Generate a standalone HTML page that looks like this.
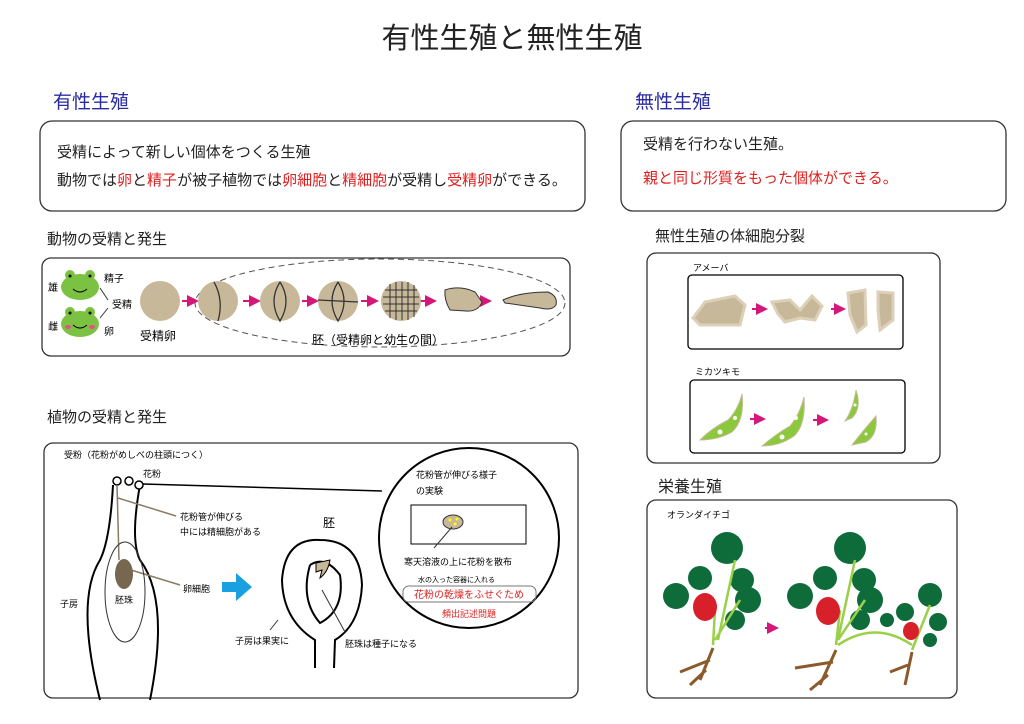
<!DOCTYPE html>
<html><head><meta charset="utf-8"><style>
body{margin:0;background:#fff;}
svg{display:block;font-family:"Liberation Sans","Noto Sans CJK JP",sans-serif;}
</style></head><body>
<svg width="1024" height="724" viewBox="0 0 1024 724" xmlns="http://www.w3.org/2000/svg">
<defs>
<marker id="ar" markerWidth="6" markerHeight="6" refX="5" refY="3" orient="auto"><path d="M0,0 L6,3 L0,6z" fill="#d6177a"/></marker>
</defs>
<text x="512" y="48" font-size="29" text-anchor="middle" fill="#222">有性生殖と無性生殖</text>
<text x="53" y="108" font-size="19" fill="#2b2ba0">有性生殖</text>
<text x="635" y="108" font-size="19" fill="#2b2ba0">無性生殖</text>
<rect x="40" y="121" width="545" height="90" rx="12" fill="none" stroke="#333" stroke-width="1.3"/>
<text x="57" y="157" font-size="15" fill="#222">受精によって新しい個体をつくる生殖</text>
<text x="57" y="185" font-size="15" fill="#222">動物では<tspan fill="#e02020">卵</tspan>と<tspan fill="#e02020">精子</tspan>が被子植物では<tspan fill="#e02020">卵細胞</tspan>と<tspan fill="#e02020">精細胞</tspan>が受精し<tspan fill="#e02020">受精卵</tspan>ができる。</text>
<rect x="621" y="121" width="385" height="90" rx="12" fill="none" stroke="#333" stroke-width="1.3"/>
<text x="643" y="149" font-size="15" fill="#222">受精を行わない生殖。</text>
<text x="643" y="183" font-size="15" fill="#e02020">親と同じ形質をもった個体ができる。</text>

<!-- animal -->
<text x="47" y="244" font-size="15" fill="#222">動物の受精と発生</text>
<rect x="42" y="258" width="528" height="98" rx="9" fill="none" stroke="#333" stroke-width="1.3"/>
<text x="48" y="291" font-size="10">雄</text><text x="48" y="330" font-size="10">雌</text>
<ellipse cx="80" cy="287" rx="19" ry="13" fill="#7cc242"/><circle cx="70" cy="275" r="5" fill="#7cc242"/><circle cx="90" cy="275" r="5" fill="#7cc242"/>
<circle cx="70" cy="276" r="1.5" fill="#000"/><circle cx="90" cy="276" r="1.5" fill="#000"/><path d="M73 289 Q80 295 87 289" stroke="#000" fill="none"/>
<ellipse cx="80" cy="324" rx="19" ry="13" fill="#7cc242"/><circle cx="70" cy="312" r="5" fill="#7cc242"/><circle cx="90" cy="312" r="5" fill="#7cc242"/>
<circle cx="70" cy="313" r="1.5" fill="#000"/><circle cx="90" cy="313" r="1.5" fill="#000"/><path d="M73 325 Q80 331 87 325" stroke="#000" fill="none"/>
<ellipse cx="68" cy="327" rx="3" ry="2" fill="#e6508a"/><ellipse cx="92" cy="327" rx="3" ry="2" fill="#e6508a"/>
<text x="104" y="282" font-size="10">精子</text><text x="112" y="308" font-size="10">受精</text><text x="104" y="335" font-size="10">卵</text>
<path d="M100 288 L108 300 M100 318 L108 308" stroke="#333"/>
<circle cx="160" cy="301" r="20" fill="#c8b89a"/>
<text x="140" y="340" font-size="12">受精卵</text>
<ellipse cx="380" cy="303" rx="185" ry="44" fill="none" stroke="#555" stroke-dasharray="6,4"/>
<g stroke="#d6177a" stroke-width="2" marker-end="url(#ar)">
<line x1="182" y1="301" x2="197" y2="301"/><line x1="243" y1="301" x2="259" y2="301"/><line x1="302" y1="301" x2="317" y2="301"/><line x1="361" y1="301" x2="377" y2="301"/><line x1="419" y1="301" x2="435" y2="301"/><line x1="474" y1="301" x2="490" y2="301"/></g>
<g fill="#c8b89a" stroke="none"><circle cx="218" cy="301" r="20"/><circle cx="280" cy="301" r="20"/><circle cx="338" cy="301" r="20"/><circle cx="401" cy="301" r="20"/></g>
<path d="M214 282 Q224 300 218 321" stroke="#333" fill="none" stroke-width="1.3"/>
<path d="M280 282 Q268 301 280 321 Q292 301 280 282" stroke="#333" fill="none" stroke-width="1.3"/>
<path d="M338 282 Q326 301 338 321 Q350 301 338 282 M318 300 L358 302" stroke="#333" fill="none" stroke-width="1.3"/>
<path d="M385 290 H417 M383 297 H419 M383 304 H419 M385 311 H417 M390 284 V318 M396 282 V320 M402 282 V320 M408 282 V320 M414 285 V317" stroke="#333" stroke-width="1"/>
<path d="M445 290 Q460 285 475 292 L482 302 Q478 312 466 311 L450 310 Q444 300 445 290z" fill="#c8b89a" stroke="#333"/>
<path d="M503 300 Q520 292 548 292 Q558 296 556 305 Q552 311 540 308 L505 303z" fill="#c8b89a" stroke="#333"/>
<text x="312" y="344" font-size="12">胚（受精卵と幼生の間）</text>

<!-- plant -->
<text x="47" y="422" font-size="15" fill="#222">植物の受精と発生</text>
<rect x="44" y="443" width="534" height="255" rx="9" fill="none" stroke="#333" stroke-width="1.3"/>
<text x="64" y="458" font-size="9">受粉（花粉がめしべの柱頭につく）</text>
<text x="143" y="477" font-size="9">花粉</text>
<path d="M113 485 Q110 540 100 560 Q75 600 100 700 M140 485 Q130 540 140 560 Q170 600 150 700" stroke="#000" stroke-width="2" fill="none"/>
<circle cx="117" cy="481" r="4" fill="#fff" stroke="#000" stroke-width="1.5"/><circle cx="129" cy="481" r="4" fill="#fff" stroke="#000" stroke-width="1.5"/><circle cx="139" cy="485" r="4" fill="#fff" stroke="#000" stroke-width="1.5"/>
<line x1="143" y1="484" x2="382" y2="491" stroke="#000" stroke-width="1.5"/>
<path d="M117 485 L119 560" stroke="#8a7b63" stroke-width="1.5"/>
<path d="M118 498 L176 516" stroke="#8a7b63" stroke-width="1.5"/><path d="M131 570 L180 585" stroke="#8a7b63" stroke-width="1.5"/>
<ellipse cx="125" cy="592" rx="20" ry="50" fill="none" stroke="#333"/>
<ellipse cx="124" cy="574" rx="9" ry="15" fill="#776650"/>
<text x="115" y="603" font-size="9">胚珠</text><text x="60" y="607" font-size="9">子房</text>
<text x="180" y="520" font-size="9">花粉管が伸びる</text><text x="180" y="535" font-size="9">中には精細胞がある</text>
<text x="183" y="592" font-size="9">卵細胞</text>
<path d="M222 582 H236 V573 L252 587 L236 601 V592 H222z" fill="#1aa0e0"/>
<path d="M315 668 L315 640 Q283 620 282 580 Q285 538 320 540 Q360 540 362 585 Q360 625 335 640 L334 668" stroke="#000" stroke-width="2" fill="none"/>
<path d="M310 565 Q325 555 340 575 Q345 610 320 623 Q300 600 310 565" stroke="#000" stroke-width="2" fill="none"/>
<path d="M316 563 L330 560 Q328 572 320 578 L322 570 L316 572z" fill="#c8b89a" stroke="#000"/>
<text x="323" y="527" font-size="12">胚</text>
<text x="235" y="644" font-size="9">子房は果実に</text><text x="345" y="647" font-size="9">胚珠は種子になる</text>
<line x1="270" y1="630" x2="278" y2="620" stroke="#333"/><line x1="322" y1="590" x2="345" y2="632" stroke="#333"/>
<circle cx="469" cy="538" r="90" fill="#fff" stroke="#000" stroke-width="2"/>
<text x="416" y="478" font-size="9">花粉管が伸びる様子</text><text x="416" y="494" font-size="9">の実験</text>
<rect x="411" y="505" width="115" height="39" fill="none" stroke="#000"/>
<ellipse cx="453" cy="522" rx="10" ry="7" fill="#c8b89a" stroke="#333"/>
<circle cx="450" cy="520" r="1.5" fill="#ff0"/><circle cx="455" cy="524" r="1.5" fill="#ff0"/><circle cx="457" cy="519" r="1.5" fill="#ff0"/>
<line x1="452" y1="527" x2="434" y2="548" stroke="#333"/>
<text x="404" y="565" font-size="9">寒天溶液の上に花粉を散布</text>
<text x="418" y="582" font-size="7">水の入った容器に入れる</text>
<rect x="403" y="586" width="133" height="16" rx="6" fill="none" stroke="#777"/>
<text x="469" y="598" font-size="10" text-anchor="middle" fill="#e02020">花粉の乾燥をふせぐため</text>
<text x="469" y="617" font-size="9" text-anchor="middle" fill="#e02020">頻出記述問題</text>

<!-- asexual -->
<text x="655" y="241" font-size="15" fill="#222">無性生殖の体細胞分裂</text>
<rect x="647" y="253" width="293" height="210" rx="9" fill="none" stroke="#333" stroke-width="1.3"/>
<text x="693" y="271" font-size="9">アメーバ</text>
<rect x="688" y="275" width="215" height="74" rx="4" fill="none" stroke="#000" stroke-width="1.3"/>
<path d="M693 318 L705 302 L735 296 L745 305 L740 325 L700 325z" fill="#c8b89a" stroke="#ddd0b8" stroke-width="3"/>
<path d="M772 302 L790 300 L800 310 L812 296 L822 306 L815 320 L800 318 L785 322 L778 314z" fill="#c8b89a" stroke="#ddd0b8" stroke-width="3"/>
<path d="M848 293 L865 290 L866 325 L857 332 L850 315z" fill="#c8b89a" stroke="#ddd0b8" stroke-width="3"/>
<path d="M878 292 L893 293 L893 320 L880 330 L878 310z" fill="#c8b89a" stroke="#ddd0b8" stroke-width="3"/>
<g stroke="#d6177a" stroke-width="2" marker-end="url(#ar)"><line x1="752" y1="309" x2="766" y2="309"/><line x1="831" y1="309" x2="844" y2="309"/><line x1="750" y1="419" x2="764" y2="419"/><line x1="813" y1="420" x2="827" y2="420"/></g>
<text x="695" y="375" font-size="9">ミカツキモ</text>
<rect x="690" y="380" width="215" height="73" rx="4" fill="none" stroke="#000" stroke-width="1.3"/>
<g fill="#8cc83c" stroke="#c8b89a" stroke-width="1">
<path d="M700 440 Q712 428 728 420 Q738 410 742 394 Q745 420 732 432 Q718 440 700 440z"/>
<path d="M762 446 Q776 434 790 426 Q800 414 804 397 Q806 425 794 436 Q780 446 762 446z"/>
<path d="M845 421 Q853 410 856 390 Q862 408 852 418z"/>
<path d="M852 445 Q862 432 876 416 Q878 435 866 442z"/></g>
<g fill="#fff"><circle cx="720" cy="432" r="2.5"/><circle cx="735" cy="418" r="2"/><circle cx="782" cy="437" r="2.5"/><circle cx="796" cy="418" r="2"/><circle cx="855" cy="405" r="1.5"/><circle cx="866" cy="434" r="1.5"/></g>

<text x="658" y="492" font-size="16" fill="#222">栄養生殖</text>
<rect x="647" y="500" width="310" height="198" rx="9" fill="none" stroke="#333" stroke-width="1.3"/>
<text x="667" y="518" font-size="9">オランダイチゴ</text>
<g fill="#0e6b3a">
<circle cx="727" cy="548" r="16"/><circle cx="700" cy="578" r="12"/><circle cx="676" cy="596" r="13"/><circle cx="742" cy="580" r="12"/><circle cx="748" cy="600" r="13"/><circle cx="735" cy="620" r="10"/>
<circle cx="850" cy="548" r="16"/><circle cx="825" cy="578" r="12"/><circle cx="800" cy="596" r="13"/><circle cx="864" cy="580" r="12"/><circle cx="870" cy="600" r="13"/><circle cx="860" cy="620" r="10"/>
<circle cx="930" cy="595" r="12"/><circle cx="905" cy="612" r="9"/><circle cx="887" cy="620" r="7"/><circle cx="938" cy="622" r="9"/><circle cx="930" cy="640" r="7"/></g>
<path d="M713 645 L715 610 M715 640 L740 600 M718 640 L735 560 M836 645 L840 610 M838 640 L865 600 M838 640 L855 560 M838 645 Q875 620 912 645 M912 650 L930 605" stroke="#9ad048" stroke-width="2.5" fill="none"/>
<ellipse cx="705" cy="607" rx="12" ry="14" fill="#d8202a"/><ellipse cx="828" cy="611" rx="12" ry="14" fill="#d8202a"/><ellipse cx="911" cy="631" rx="8" ry="9" fill="#d8202a"/>
<path d="M713 648 L700 680 M710 660 L680 672 M706 670 L690 685 M836 650 L820 685 M833 662 L795 668 M828 675 L810 690 M912 652 L905 685 M908 665 L890 672" stroke="#8b5a2b" stroke-width="3" fill="none"/>
<line x1="765" y1="628" x2="777" y2="628" stroke="#d6177a" stroke-width="2" marker-end="url(#ar)"/>
</svg>
</body></html>
